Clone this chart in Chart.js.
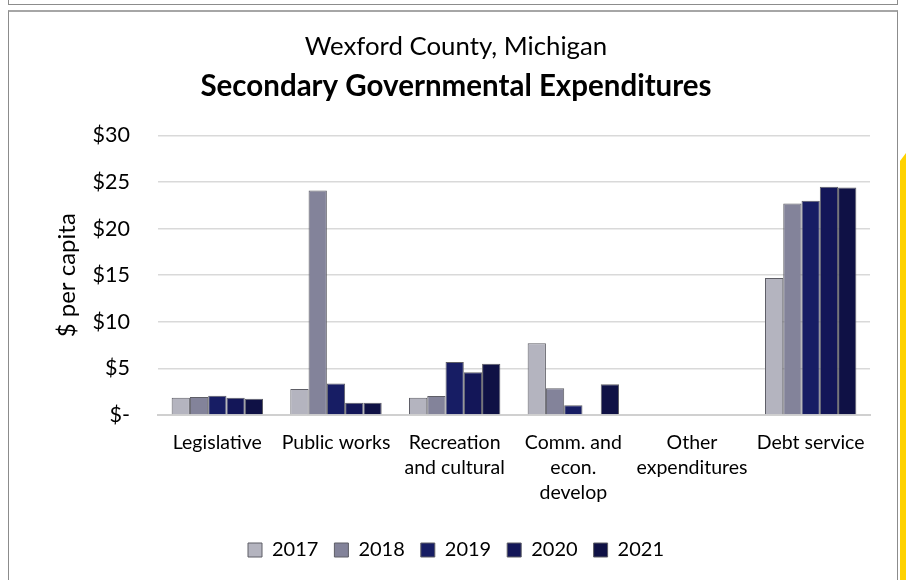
<!DOCTYPE html>
<html>
<head>
<meta charset="utf-8">
<script src="https://cdn.jsdelivr.net/npm/chart.js@4"></script>
<style>
  html, body { margin: 0; padding: 0; background: #fff; overflow: hidden; }
  body { width: 906px; height: 580px; position: relative; font-family: Lato, sans-serif; }
  .prev-box { position: absolute; left: 8px; top: -10px; width: 888px; height: 13px; border: 1px solid #8c8c8c; }
  .frame { position: absolute; left: 8px; top: 10px; width: 888px; height: 590px; border: 1px solid #8c8c8c; border-top: 2px solid #a6a6a6; }
  .accent { position: absolute; left: 900px; top: 153px; width: 6px; height: 427px; background: #ffd200;
            clip-path: polygon(0 8px, 100% 0, 100% 100%, 0 100%); z-index: 2; }
  #wrap { position: absolute; left: 9px; top: 12px; width: 897px; height: 568px; }
</style>
</head>
<body>
<div class="prev-box"></div>
<div class="frame"></div>
<div class="accent"></div>
<div id="wrap"><canvas id="chart"></canvas></div>
<script>
// Spending per capita by category, one series per fiscal year
const categories = [
  'Legislative',
  'Public works',
  ['Recreation', 'and cultural'],
  ['Comm. and', 'econ.', 'develop'],
  ['Other', 'expenditures'],
  'Debt service'
];
const years = ['2017', '2018', '2019', '2020', '2021'];
const values2017 = [1.86, 2.8, 1.86, 7.7, 0, 14.7];
const values2018 = [1.94, 24.1, 2.04, 2.87, 0.1, 22.7];
const values2019 = [2.08, 3.4, 5.7, 1.07, 0, 23.0];
const values2020 = [1.86, 1.32, 4.6, 0, 0, 24.5];
const values2021 = [1.75, 1.32, 5.5, 3.3, 0, 24.4];
const yearColors = ['#b4b4bf', '#83839a', '#171d64', '#131658', '#0f1145'];

const series = [values2017, values2018, values2019, values2020, values2021];

const ctx = document.getElementById('chart').getContext('2d');
new Chart(ctx, {
  type: 'bar',
  data: {
    labels: categories,
    datasets: series.map((vals, i) => ({
      label: years[i],
      data: vals,
      backgroundColor: yearColors[i],
      borderColor: '#5e5e66',
      borderWidth: 1,
      borderSkipped: 'bottom',
      barPercentage: 1,
      categoryPercentage: 0.77
    }))
  },
  options: {
    responsive: true,
    maintainAspectRatio: false,
    animation: false,
    layout: { padding: { left: 33, right: 36, top: 19, bottom: 10 } },
    plugins: {
      title: {
        display: true,
        text: 'Wexford County, Michigan',
        color: '#000',
        font: { family: 'Lato', size: 25.8, weight: 'normal' },
        padding: { top: 0, bottom: 7 }
      },
      subtitle: {
        display: true,
        text: 'Secondary Governmental Expenditures',
        color: '#000',
        font: { family: 'Lato', size: 29.5, weight: 'bold' },
        padding: { top: 0, bottom: 31 }
      },
      legend: {
        position: 'bottom',
        labels: {
          color: '#000',
          font: { family: 'Lato', size: 20 },
          boxWidth: 14,
          boxHeight: 14,
          padding: 16
        }
      },
      tooltip: { enabled: false }
    },
    scales: {
      x: {
        grid: { display: false },
        border: { color: '#d0d0d0', width: 2 },
        ticks: {
          color: '#000',
          font: { family: 'Lato', size: 19.5, lineHeight: 1.28 },
          maxRotation: 0,
          autoSkip: false,
          padding: 7
        },
        // leave room between the category labels and the legend
        afterFit: scale => { scale.height += 12; }
      },
      y: {
        min: 0,
        max: 30,
        grid: { color: '#d9d9d9', lineWidth: 1.5, drawTicks: false },
        border: { display: false },
        ticks: {
          stepSize: 5,
          color: '#000',
          font: { family: 'Lato', size: 21.5 },
          padding: 28,
          callback: v => v === 0 ? '$-' : '$' + v
        },
        title: {
          display: true,
          text: '$ per capita',
          color: '#000',
          font: { family: 'Lato', size: 24 },
          padding: { top: 10.6, bottom: 0 }
        },
        afterFit: scale => { scale.width = 116; }
      }
    }
  }
});
</script>
</body>
</html>
